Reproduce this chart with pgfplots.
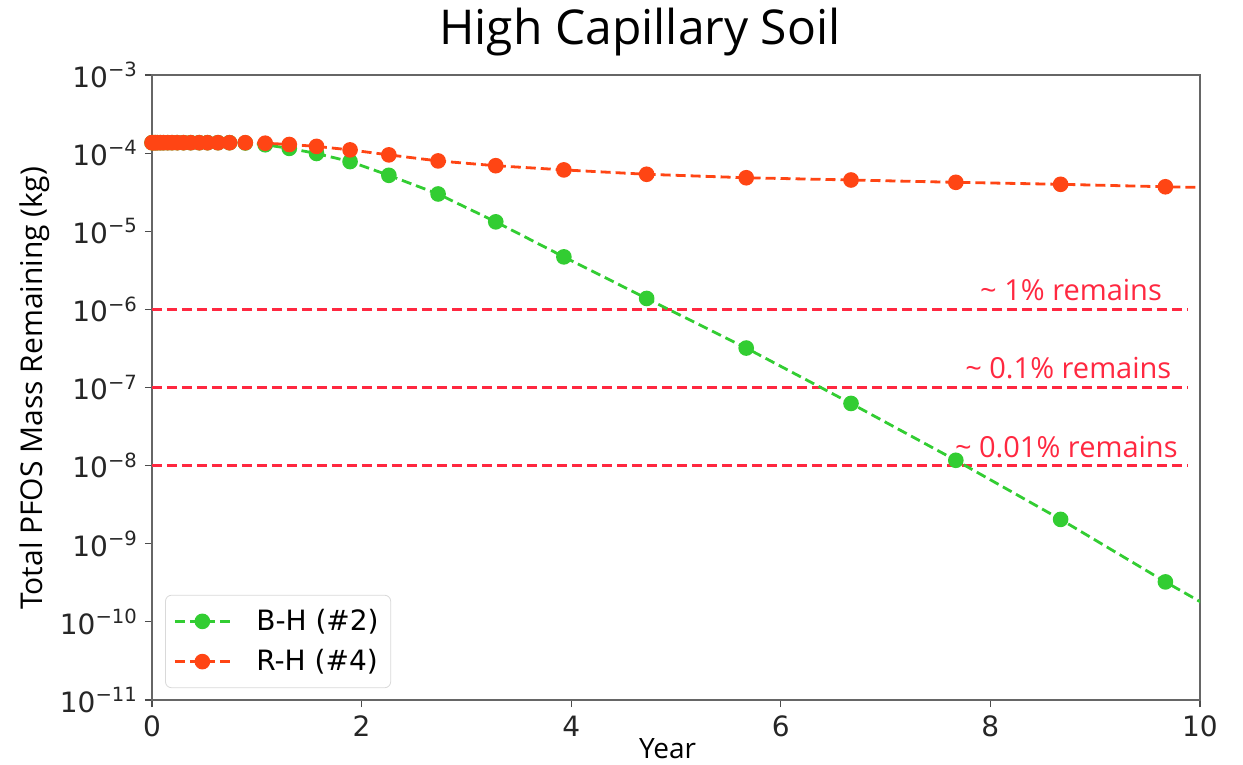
\documentclass[border=0pt]{standalone}
\usepackage{fontspec}
\setmainfont{DejaVu Sans}
\newfontfamily\lab{Open Sans}
\usepackage{pgfplots}
\pgfplotsset{compat=1.18}
\definecolor{cg}{RGB}{50,205,50}
\definecolor{cr}{RGB}{255,69,20}
\definecolor{ch}{RGB}{255,40,64}

\pgfplotstableread{
t      g         r
0      1.36e-4   1.36e-4
0.01   1.36e-4   1.36e-4
0.03   1.36e-4   1.36e-4
0.05   1.36e-4   1.36e-4
0.08   1.36e-4   1.36e-4
0.11   1.36e-4   1.36e-4
0.15   1.36e-4   1.36e-4
0.19   1.36e-4   1.36e-4
0.24   1.36e-4   1.36e-4
0.30   1.36e-4   1.36e-4
0.37   1.36e-4   1.36e-4
0.45   1.36e-4   1.36e-4
0.53   1.36e-4   1.36e-4
0.63   1.36e-4   1.36e-4
0.74   1.36e-4   1.36e-4
0.89   1.35e-4   1.36e-4
1.08   1.28e-4   1.34e-4
1.31   1.15e-4   1.29e-4
1.57   9.9e-5    1.22e-4
1.89   7.8e-5    1.10e-4
2.26   5.2e-5    9.5e-5
2.73   3.0e-5    7.95e-5
3.28   1.32e-5   6.9e-5
3.93   4.7e-6    6.1e-5
4.72   1.38e-6   5.36e-5
5.67   3.2e-7    4.84e-5
6.67   6.25e-8   4.53e-5
7.67   1.17e-8   4.23e-5
8.67   2.05e-9   3.99e-5
9.67   3.25e-10  3.71e-5
10.67  5.6e-11   3.5e-5
}\datatable

\begin{document}
\begin{tikzpicture}
\path[use as bounding box] (-76pt,-32.5pt) rectangle (545.5pt,350pt);
\begin{axis}[
  at={(0,0)}, anchor=south west, scale only axis,
  width=524pt, height=312.5pt,
  ymode=log, xmin=0, xmax=10, ymin=1e-11, ymax=1e-3,
  xtick={0,2,4,6,8,10}, xticklabels={0,2,4,6,8,10},
  ytick={1e-11,1e-10,1e-9,1e-8,1e-7,1e-6,1e-5,1e-4,1e-3},
  yticklabels={10\textsuperscript{−11},10\textsuperscript{−10},10\textsuperscript{−9},10\textsuperscript{−8},10\textsuperscript{−7},10\textsuperscript{−6},10\textsuperscript{−5},10\textsuperscript{−4},10\textsuperscript{−3}},
  yminorticks=false, xminorticks=false,
  tick align=outside, tick pos=left, major tick length=3.5pt,
  tick style={black!70, line width=0.6pt},
  axis line style={black!60, line width=0.8pt},
  tick label style={font=\fontsize{14}{16}\selectfont, text=black!85},
  xticklabel style={yshift=-1pt},
  clip=true,
  legend cell align=left,
  legend style={at={(0.0125,0.019)}, anchor=south west, draw=black!15,
    rounded corners=3pt, font=\fontsize{14}{16}\selectfont,
    inner xsep=4pt, inner ysep=5pt, row sep=4pt},
  legend image code/.code={
    \draw[mark repeat=2, mark phase=2, #1] plot coordinates {(0pt,0pt) (13.75pt,0pt) (27.5pt,0pt)};
    \path (38pt,0pt);
  },
]
\addplot[ch, line width=1.4pt, dash pattern=on 5pt off 2.5pt, forget plot] coordinates {(0,1e-6) (9.88,1e-6)};
\addplot[ch, line width=1.4pt, dash pattern=on 5pt off 2.5pt, forget plot] coordinates {(0,1e-7) (9.88,1e-7)};
\addplot[ch, line width=1.4pt, dash pattern=on 5pt off 2.5pt, forget plot] coordinates {(0,1e-8) (9.88,1e-8)};
\addplot[cg, line width=1.4pt, dash pattern=on 5pt off 2.5pt, mark=*, mark size=3.2pt,
  mark options={solid, fill=cg, draw=cg}] table[x=t, y=g] {\datatable};
\addlegendentry{B-H (\#2)}
\addplot[cr, line width=1.4pt, dash pattern=on 5pt off 2.5pt, mark=*, mark size=3.2pt,
  mark options={solid, fill=cr, draw=cr}] table[x=t, y=r] {\datatable};
\addlegendentry{R-H (\#4)}
\node[anchor=base east, text=ch, font=\lab\fontsize{14.5}{16}\selectfont, inner sep=0pt] at (axis cs:9.64,1.315e-6) {\textasciitilde{} 1\% remains};
\node[anchor=base east, text=ch, font=\lab\fontsize{14.5}{16}\selectfont, inner sep=0pt] at (axis cs:9.73,1.306e-7) {\textasciitilde{} 0.1\% remains};
\node[anchor=base east, text=ch, font=\lab\fontsize{14.5}{16}\selectfont, inner sep=0pt] at (axis cs:9.79,1.27e-8) {\textasciitilde{} 0.01\% remains};
\end{axis}
\node[anchor=base, font=\lab\fontsize{24}{28}\selectfont, inner sep=0pt] at (244pt,327.5pt) {High Capillary Soil};
\node[anchor=base, font=\lab\fontsize{14}{16}\selectfont, inner sep=0pt] at (257.75pt,-29.5pt) {Year};
\node[anchor=base, rotate=90, font=\lab\fontsize{15}{18}\selectfont, inner sep=0pt] at (-54.5pt,155.75pt) {Total PFOS Mass Remaining (kg)};
\end{tikzpicture}
\end{document}
